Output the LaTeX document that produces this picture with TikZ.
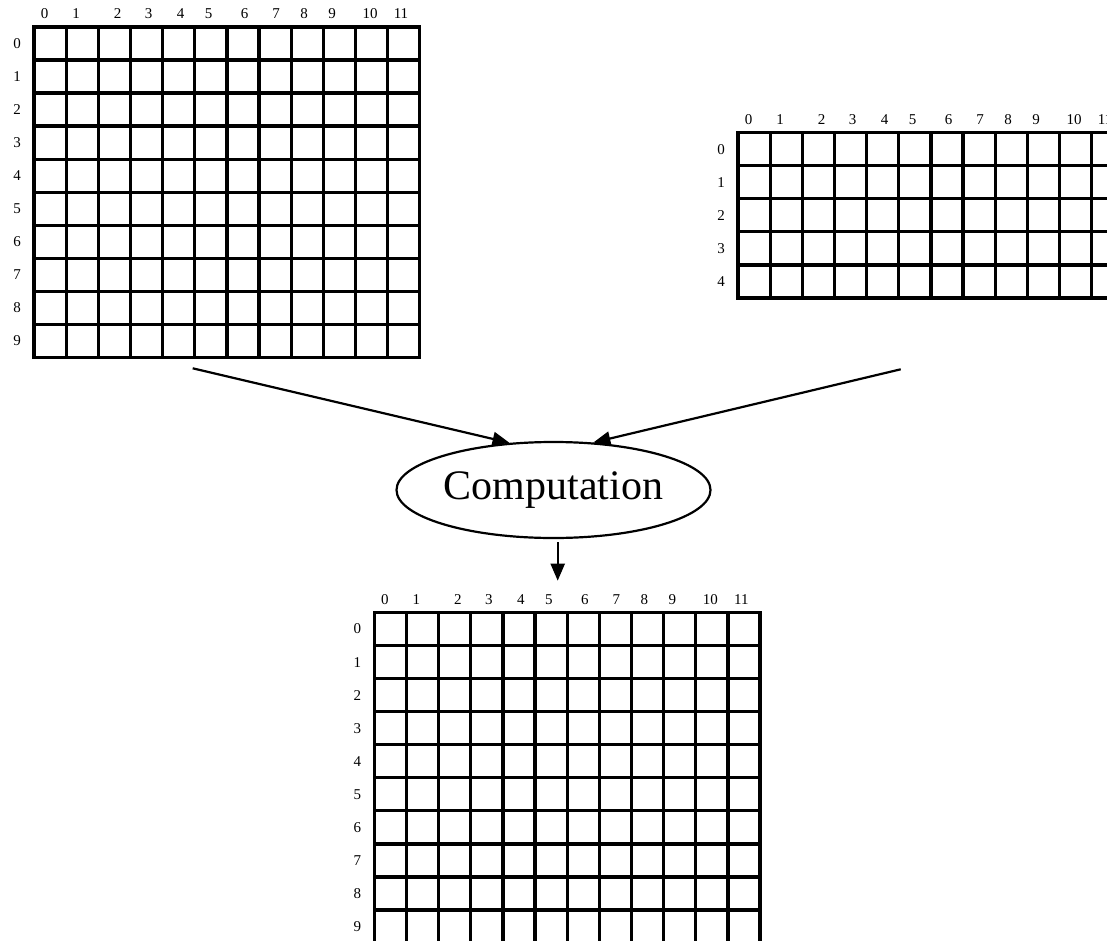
\documentclass[tikz,border=0pt]{standalone}
\usepackage{fontspec}
\setmainfont{Liberation Serif}
\usetikzlibrary{arrows.meta,shapes.geometric}
\tikzset{
  gridline/.style={line width=3.3pt, line cap=rect},
  lbl/.style={font=\fontsize{15}{15}\selectfont, inner sep=0pt, anchor=center},
  conn/.style={line width=2.2pt, -{Triangle[length=17pt,width=14pt]}},
  compnode/.style={ellipse, draw, line width=2.2pt, minimum width=314pt, minimum height=96pt, inner sep=0pt, font=\fontsize{42}{42}\selectfont}
}
\newcommand{\datagrid}[4]{%
  \begin{scope}[shift={(#1,#2)}]
    \foreach \i in {0,...,12} \draw[gridline] (\i*32.15,0) -- (\i*32.15,#3*33.05);
    \foreach \j in {0,...,#3} \draw[gridline] (0,\j*33.05) -- (12*32.15,\j*33.05);
    \foreach \c/\o in {0/10.5,1/42,2/83.5,3/114.5,4/146.5,5/174.5,6/210.5,7/242,8/270,9/298,10/336,11/367}
      \node[lbl] (#4-c\c) at (\o,-13) {\c};
    \foreach \r in {1,...,#3} {
      \pgfmathtruncatemacro{\rl}{\r-1}
      \node[lbl] (#4-r\rl) at (-17,{(\r-0.5)*33.05}) {\rl};
    }
  \end{scope}
}
\begin{document}
\begin{tikzpicture}[x=1pt,y=-1pt]
  \useasboundingbox (0,0) rectangle (1107,941);
  \clip (0,0) rectangle (1107,941);
  \datagrid{34}{27}{10}{ga}
  \datagrid{738}{132.7}{5}{gb}
  \datagrid{374.3}{612.5}{10}{gc}
  \node[compnode] (comp) at (553.5,490) {Computation};
  \coordinate (s1) at (192.7,368.3);
  \coordinate (s2) at (900.7,369.3);
  \coordinate (e3) at (557.7,580.7);
  \draw[conn] (s1) -- (comp.133.7);
  \draw[conn] (s2) -- (comp.50.7);
  \draw[conn] ([yshift=-3pt]comp.south -| e3) -- (e3);
\end{tikzpicture}
\end{document}
